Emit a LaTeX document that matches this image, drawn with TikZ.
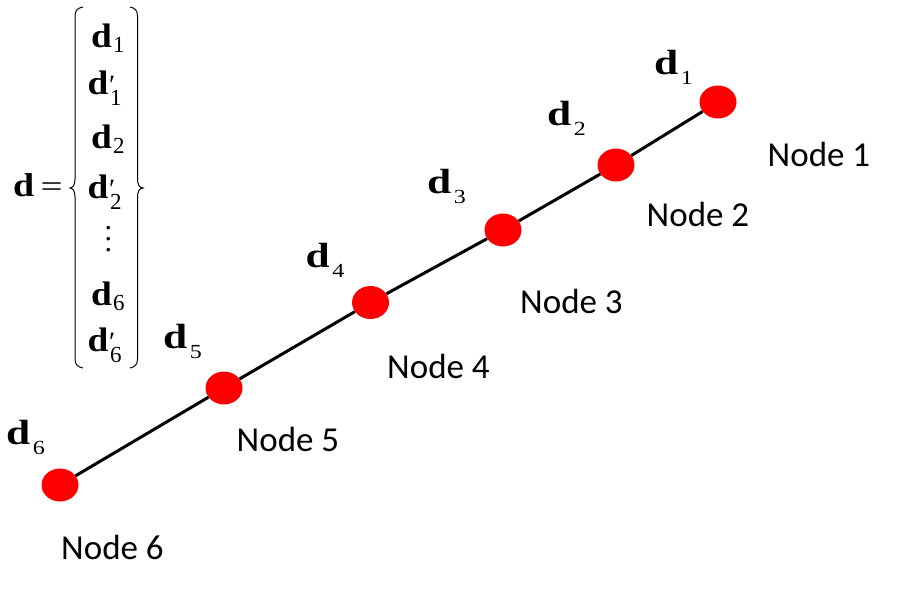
\documentclass[tikz,border=0pt]{standalone}
\usepackage{graphicx}
\usepackage{fontspec}
\setmainfont{Liberation Serif}
\newfontfamily\calibri{Carlito}
\usetikzlibrary{shapes.geometric}
\newcommand\bigd[2]{\scalebox{#2}[1]{\fontsize{#1}{#1}\selectfont\bfseries d}}
\newcommand\lbld[1]{\bigd{35}{1.24}\kern2.5pt\raisebox{-10.5pt}{\scalebox{1.2}[1]{\fontsize{20}{20}\selectfont #1}}}
\newcommand\mtxd[1]{\bigd{34}{1.1}\kern1pt\raisebox{-5pt}{\fontsize{23}{23}\selectfont #1}}
\newcommand\mtxdp[1]{\bigd{34}{1.1}\rlap{\kern0.5pt{\fontsize{28}{28}\selectfont\char"2032}}\kern1.5pt\raisebox{-11pt}{\fontsize{23}{23}\selectfont #1}}
\begin{document}
\begin{tikzpicture}[x=1pt,y=-1pt,
  dot/.style={ellipse,fill=red,minimum width=37pt,minimum height=33pt,inner sep=0pt},
  nlabel/.style={anchor=base west,inner sep=0pt,font=\calibri\fontsize{35}{35}\selectfont},
  dlabel/.style={anchor=base west,inner sep=0pt},
  link/.style={line width=3pt},
  brace/.style={line width=1pt}]
\useasboundingbox (0,0) rectangle (899,594);
% dots
\node[dot] (n1) at (718,102) {};
\node[dot] (n2) at (616,165) {};
\node[dot] (n3) at (503,230) {};
\node[dot] (n4) at (370.5,302.5) {};
\node[dot] (n5) at (224,388) {};
\node[dot] (n6) at (60,485) {};
\draw[link] (n6) -- (n5) -- (n4) -- (n3) -- (n2) -- (n1);
% node labels
\node[nlabel] (t1) at (767.5,166) {Node 1};
\node[nlabel] (t2) at (646.5,226.5) {Node 2};
\node[nlabel] (t3) at (520,313.5) {Node 3};
\node[nlabel] (t4) at (387,378.5) {Node 4};
\node[nlabel] (t5) at (236.5,451.5) {Node 5};
\node[nlabel] (t6) at (61,559.5) {Node 6};
% d labels
\node[dlabel] (l1) at (654,74.3) {\lbld{1}};
\node[dlabel] (l2) at (547,125) {\lbld{2}};
\node[dlabel] (l3) at (427,193.3) {\lbld{3}};
\node[dlabel] (l4) at (305.5,267.3) {\lbld{4}};
\node[dlabel] (l5) at (163,348) {\lbld{5}};
\node[dlabel] (l6) at (6,444.3) {\lbld{6}};
% vector equation
\node[dlabel] (dv) at (13,196) {\bigd{33}{1.15}};
\node[dlabel] (eq) at (40.5,196) {\scalebox{1.3}[1]{\fontsize{30}{30}\selectfont =}};
\node[dlabel] (m1) at (91,47.5) {\mtxd{1}};
\node[dlabel] (m2) at (87.5,94) {\mtxdp{1}};
\node[dlabel] (m3) at (91,148) {\mtxd{2}};
\node[dlabel] (m4) at (87.5,198) {\mtxdp{2}};
\node[inner sep=0pt,anchor=south] (m5) at (108.3,252) {\fontsize{30}{30}\selectfont\vbox{\baselineskip=11pt\lineskiplimit=-20pt\hbox{.}\hbox{.}\hbox{.}}};
\node[dlabel] (m6) at (91,305) {\mtxd{6}};
\node[dlabel] (m7) at (87.5,351.5) {\mtxdp{6}};
\draw[brace] (83,7) .. controls (77.5,8) and (75,10.5) .. (75,16) -- (75,179)
  .. controls (75,185) and (73,187.5) .. (70,188)
  .. controls (73,188.5) and (75,191) .. (75,197) -- (75,359)
  .. controls (75,364.5) and (77.5,367) .. (83,368);
\draw[brace] (130,7) .. controls (135,8) and (137.5,10.5) .. (137.5,16) -- (137.5,179)
  .. controls (137.5,185) and (139.5,187.5) .. (143,188)
  .. controls (139.5,188.5) and (137.5,191) .. (137.5,197) -- (137.5,359)
  .. controls (137.5,364.5) and (135,367) .. (130,368);
\end{tikzpicture}
\end{document}
